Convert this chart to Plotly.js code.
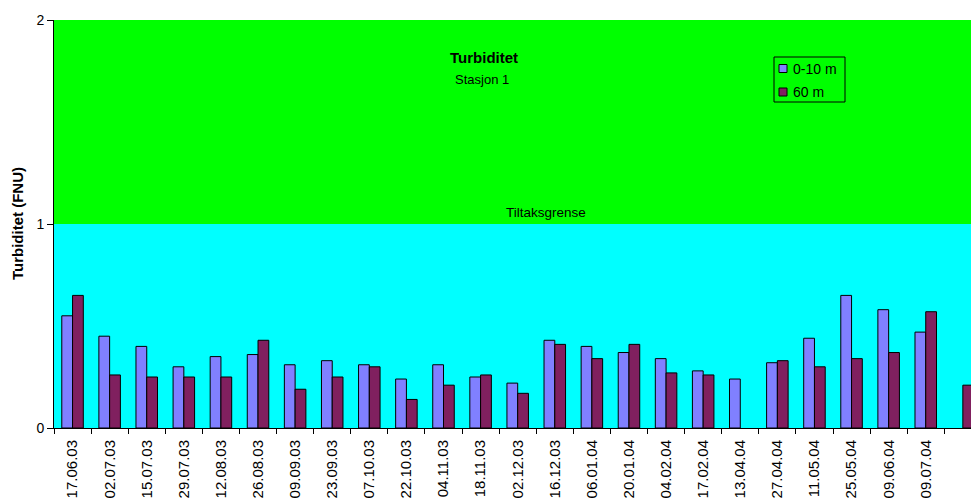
<!DOCTYPE html>
<html>
<head>
<meta charset="utf-8">
<script src="https://cdn.plot.ly/plotly-3.0.1.min.js"></script>
<style>html,body{margin:0;padding:0;background:#fff;}#chart{width:971px;height:498px;}</style>
</head>
<body>
<div id="chart"></div>
<script>
// Category keys and their tick labels (last sampling date label is blank in the source)
const categories = ["17.06.03","02.07.03","15.07.03","29.07.03","12.08.03","26.08.03","09.09.03","23.09.03",
  "07.10.03","22.10.03","04.11.03","18.11.03","02.12.03","16.12.03","06.01.04","20.01.04",
  "04.02.04","17.02.04","13.04.04","27.04.04","11.05.04","25.05.04","09.06.04","09.07.04","c25"];
const tickLabels = ["17.06.03","02.07.03","15.07.03","29.07.03","12.08.03","26.08.03","09.09.03","23.09.03",
  "07.10.03","22.10.03","04.11.03","18.11.03","02.12.03","16.12.03","06.01.04","20.01.04",
  "04.02.04","17.02.04","13.04.04","27.04.04","11.05.04","25.05.04","09.06.04","09.07.04",""];
const depth0to10 = [0.55,0.45,0.40,0.30,0.35,0.36,0.31,0.33,0.31,0.24,0.31,0.25,0.22,0.43,0.40,0.37,
  0.34,0.28,0.24,0.32,0.44,0.65,0.58,0.47,null];
const depth60 = [0.65,0.26,0.25,0.25,0.25,0.43,0.19,0.25,0.30,0.14,0.21,0.26,0.17,0.41,0.34,0.41,
  0.27,0.26,null,0.33,0.30,0.34,0.37,0.57,0.21];
const seriesNames = ["0-10 m","60 m"];
const seriesColors = ["#8080ff","#80205f"];
const limitValue = 1;
const yMax = 2;

const font = "Arial, 'Liberation Sans', sans-serif";

const traces = [
  {type:"bar", name:seriesNames[0], x:categories, y:depth0to10, showlegend:false,
   marker:{color:seriesColors[0], line:{color:"#000", width:1}}},
  {type:"bar", name:seriesNames[1], x:categories, y:depth60, showlegend:false,
   marker:{color:seriesColors[1], line:{color:"#000", width:1}}}
];

// plot-area pixel helpers for legend placement (plot area: x 54..971, y 20..428)
const px = v => (v - 54) / 917;
const py = v => (428 - v) / 408;

const shapes = [
  {type:"rect", xref:"paper", yref:"y", x0:0, x1:1, y0:limitValue, y1:yMax,
   fillcolor:"#00ff00", line:{width:0}, layer:"below"},
  // legend box
  {type:"rect", xref:"paper", yref:"paper", x0:px(774), x1:px(845), y0:py(102), y1:py(57),
   fillcolor:"#00ff00", line:{color:"#000", width:1}, layer:"above"}
];
const legendRows = [68.5, 92];
const annotations = [
  {text:"<b>Turbiditet (FNU)</b>", xref:"paper", yref:"paper", x:-0.0403, y:0.5,
   textangle:-90, showarrow:false, xanchor:"center", yanchor:"middle", font:{size:15}},
  {text:"<b>Turbiditet</b>", xref:"paper", yref:"paper", x:0.469, y:0.907,
   showarrow:false, xanchor:"center", yanchor:"middle", font:{size:15}},
  {text:"Stasjon 1", xref:"paper", yref:"paper", x:0.467, y:0.855,
   showarrow:false, xanchor:"center", yanchor:"middle", font:{size:13}},
  {text:"Tiltaksgrense", xref:"paper", yref:"y", x:0.537, y:1.058,
   showarrow:false, xanchor:"center", yanchor:"middle", font:{size:13.5}}
];
seriesNames.forEach((n, i) => {
  const cy = legendRows[i];
  shapes.push({type:"rect", xref:"paper", yref:"paper", x0:px(779), x1:px(787), y0:py(cy+4), y1:py(cy-4),
    fillcolor:seriesColors[i], line:{color:"#000", width:1}, layer:"above"});
  annotations.push({text:n, xref:"paper", yref:"paper", x:px(791), y:py(cy),
    showarrow:false, xanchor:"left", yanchor:"middle", font:{size:14}});
});

const layout = {
  width:971, height:498,
  margin:{l:54, r:0, t:20, b:70, pad:0},
  paper_bgcolor:"#ffffff",
  plot_bgcolor:"#00ffff",
  font:{family:font, size:13, color:"#000"},
  barmode:"group", bargap:0.42, bargroupgap:0,
  showlegend:false,
  xaxis:{type:"category", range:[-0.5, 24.22], tickmode:"array",
    tickvals:categories, ticktext:tickLabels, tickangle:-90,
    tickson:"boundaries", ticks:"outside", ticklen:5, tickcolor:"#000",
    ticklabelstandoff:5,
    showline:true, linecolor:"#000", linewidth:1, showgrid:false, zeroline:false,
    tickfont:{family:font, size:15, color:"#000"}, fixedrange:true, automargin:false},
  yaxis:{range:[0, yMax], tickvals:[0,1,2], ticks:"outside", ticklen:6, tickcolor:"#000",
    showline:true, linecolor:"#000", linewidth:1, showgrid:false, zeroline:false,
    tickfont:{family:font, size:14, color:"#000"}, automargin:false},
  shapes:shapes,
  annotations:annotations
};

Plotly.newPlot("chart", traces, layout, {displayModeBar:false, staticPlot:true});
</script>
</body>
</html>
